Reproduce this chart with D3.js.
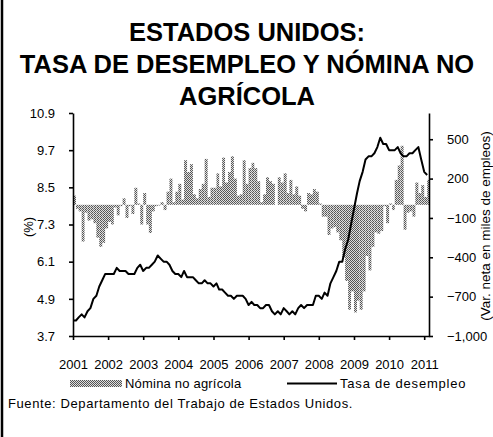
<!DOCTYPE html>
<html>
<head>
<meta charset="utf-8">
<script src="https://cdn.jsdelivr.net/npm/d3@7"></script>
<style>
  body { margin: 0; background: #fff; }
  svg { font-family: "Liberation Sans", Arial, sans-serif; }
  .axis path, .axis line { stroke: #000; stroke-width: 1.6; }
</style>
</head>
<body>
<svg id="chart" width="493" height="437"></svg>
<script>
// monthly, Jan 2001 .. Feb 2011
const startYear = 2001;
const years = ['2001', '2002', '2003', '2004', '2005', '2006', '2007', '2008', '2009', '2010', '2011'];

// Tasa de desempleo (%)
const desempleo = [
  4.2, 4.2, 4.3, 4.4, 4.3, 4.5, 4.6, 4.9, 5.0, 5.3, 5.5, 5.7,
  5.7, 5.7, 5.7, 5.9, 5.8, 5.8, 5.8, 5.7, 5.7, 5.7, 5.9, 6.0,
  5.8, 5.9, 5.9, 6.0, 6.1, 6.3, 6.2, 6.1, 6.1, 6.0, 5.8, 5.7,
  5.7, 5.6, 5.8, 5.6, 5.6, 5.6, 5.5, 5.4, 5.4, 5.5, 5.4, 5.4,
  5.3, 5.4, 5.2, 5.2, 5.1, 5.0, 5.0, 4.9, 5.0, 5.0, 5.0, 4.9,
  4.7, 4.8, 4.7, 4.7, 4.6, 4.6, 4.7, 4.7, 4.5, 4.4, 4.5, 4.4,
  4.6, 4.5, 4.4, 4.5, 4.4, 4.6, 4.7, 4.6, 4.7, 4.7, 4.7, 5.0,
  5.0, 4.9, 5.1, 5.0, 5.4, 5.6, 5.8, 6.1, 6.1, 6.5, 6.8, 7.3,
  7.8, 8.3, 8.7, 9.0, 9.4, 9.5, 9.5, 9.6, 9.8, 10.1, 9.9, 9.9,
  9.7, 9.7, 9.7, 9.8, 9.6, 9.5, 9.5, 9.6, 9.6, 9.7, 9.8, 9.4,
  9.0, 8.9
];

// Nómina no agrícola (var. neta, miles de empleos)
const nomina = [
  70, -30, -50, -280, -60, -120, -110, -140, -250, -320, -290, -180,
  -130, -150, -20, -80, -10, 50, -100, -10, -70, 130, 10, -150,
  90, -150, -215, -50, -10, -5, 20, -40, 100, 200, 20, 100,
  160, 40, 340, 250, 310, 80, 50, 120, 160, 350, 60, 130,
  130, 240, 140, 360, 170, 250, 370, 200, 70, 80, 340, 160,
  280, 320, 280, 180, 20, 80, 210, 180, 160, 0, 210, 170,
  240, 90, 190, 80, 140, 70, -30, -50, 90, 80, 120, 100,
  10, -90, -90, -230, -180, -170, -210, -270, -400, -580, -800, -660,
  -820, -730, -800, -660, -390, -500, -320, -210, -220, -200, -10, -140,
  10, -40, 190, 300, 450, -190, -60, -50, -90, 170, 90, 150,
  60, 190
];

const leftTicks = [3.7, 4.9, 6.1, 7.3, 8.5, 9.7, 10.9];
const rightTicks = [-1000, -700, -400, -100, 200, 500];

const svg = d3.select('#chart');
const plotLeft = 73, plotRight = 429, plotTop = 113, plotBottom = 336;

const monthDate = (i) => new Date(startYear, i, 1);

const x = d3.scaleTime()
  .domain([new Date(2001, 0, 1), new Date(2011, 1, 20)])
  .range([plotLeft, plotRight]);
const yLeft = d3.scaleLinear().domain([3.7, 10.9]).range([plotBottom, plotTop]);
const yRight = d3.scaleLinear().domain([-1000, 700]).range([plotBottom, plotTop]);

// stipple pattern for the bars
const defs = svg.append('defs');
const pat = defs.append('pattern')
  .attr('id', 'stipple')
  .attr('patternUnits', 'userSpaceOnUse')
  .attr('width', 2).attr('height', 2);
pat.append('rect').attr('width', 2).attr('height', 2).attr('fill', '#dedede');
pat.append('rect').attr('width', 1).attr('height', 1).attr('fill', '#555');
pat.append('rect').attr('x', 1).attr('y', 1).attr('width', 1).attr('height', 1).attr('fill', '#555');

// frame
svg.append('line').attr('x1', 2).attr('x2', 2).attr('y1', 0).attr('y2', 437)
  .attr('stroke', '#000').attr('stroke-width', 2.5);

// title
const titleLines = ['ESTADOS UNIDOS:', 'TASA DE DESEMPLEO Y NÓMINA NO', 'AGRÍCOLA'];
svg.append('g').selectAll('text')
  .data(titleLines)
  .enter()
  .append('text')
  .attr('x', 247)
  .attr('y', (d, i) => 41 + i * 32)
  .attr('text-anchor', 'middle')
  .attr('font-size', 25.5)
  .attr('font-weight', 'bold')
  .text((d) => d);

// bars
svg.append('g')
  .selectAll('rect')
  .data(nomina)
  .enter()
  .append('rect')
  .attr('x', (d, i) => x(monthDate(i)))
  .attr('width', (d, i) => x(monthDate(i + 1)) - x(monthDate(i)))
  .attr('y', (d) => yRight(Math.max(0, d)))
  .attr('height', (d) => Math.abs(yRight(d) - yRight(0)))
  .attr('fill', 'url(#stipple)');

// line
svg.append('path')
  .datum(desempleo)
  .attr('fill', 'none')
  .attr('stroke', '#000')
  .attr('stroke-width', 2)
  .attr('stroke-linejoin', 'round')
  .attr('d', d3.line().x((d, i) => x(monthDate(i))).y((d) => yLeft(d)));

// axes
svg.append('g')
  .attr('class', 'axis')
  .attr('transform', `translate(${plotLeft}, 0)`)
  .call(d3.axisLeft(yLeft).tickValues(leftTicks).tickFormat(d3.format('.1f'))
    .tickSize(4).tickSizeOuter(0).tickPadding(14));

svg.append('g')
  .attr('class', 'axis')
  .attr('transform', `translate(${plotRight}, 0)`)
  .call(d3.axisRight(yRight).tickValues(rightTicks).tickFormat(d3.format(','))
    .tickSize(4).tickSizeOuter(0).tickPadding(14));

svg.append('g')
  .attr('class', 'axis')
  .attr('transform', `translate(0, ${plotBottom})`)
  .call(d3.axisBottom(x).tickValues(years.map((y) => new Date(+y, 0, 1)))
    .tickFormat(d3.timeFormat('%Y')).tickSize(4).tickSizeOuter(0).tickPadding(20));

svg.selectAll('.axis .tick text')
  .attr('font-size', 13)
  .attr('fill', '#000')
  .attr('font-family', '"Liberation Sans", Arial, sans-serif');

// axis titles
svg.append('text')
  .attr('transform', 'translate(33, 227) rotate(-90)')
  .attr('text-anchor', 'middle')
  .attr('font-size', 13)
  .text('(%)');

svg.append('text')
  .attr('transform', 'translate(490, 226) rotate(-90)')
  .attr('text-anchor', 'middle')
  .attr('font-size', 13.5)
  .text('(Var. neta en miles de empleos)');

// legend
const legend = svg.append('g').attr('font-size', 13);
legend.append('rect')
  .attr('x', 70).attr('y', 380).attr('width', 52).attr('height', 7)
  .attr('fill', 'url(#stipple)');
legend.append('text')
  .attr('x', 125).attr('y', 388)
  .attr('letter-spacing', 0.2)
  .text('Nómina no agrícola');
legend.append('line')
  .attr('x1', 287).attr('x2', 337).attr('y1', 383.5).attr('y2', 383.5)
  .attr('stroke', '#000').attr('stroke-width', 2);
legend.append('text')
  .attr('x', 340).attr('y', 388)
  .attr('letter-spacing', 0.8)
  .text('Tasa de desempleo');

// source
svg.append('text')
  .attr('x', 8).attr('y', 408).attr('font-size', 13)
  .attr('letter-spacing', 0.6)
  .text('Fuente: Departamento del Trabajo de Estados Unidos.');
</script>
</body>
</html>
